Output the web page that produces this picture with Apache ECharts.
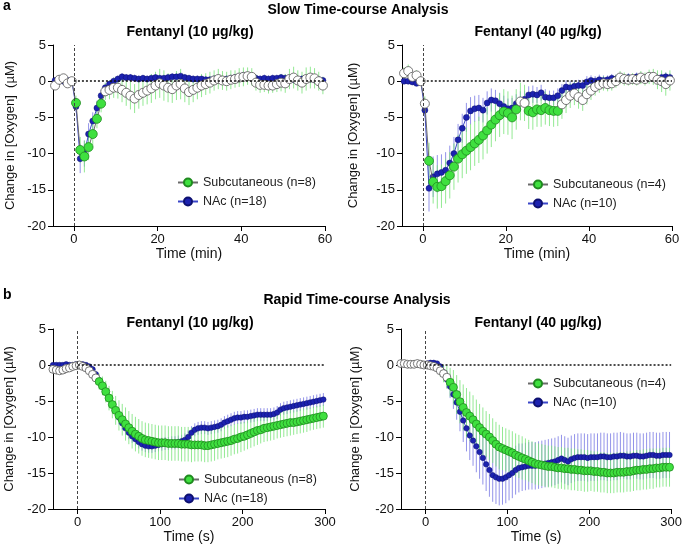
<!DOCTYPE html>
<html>
<head>
<meta charset="utf-8">
<title>Fentanyl - change in [Oxygen]</title>
<script src="https://cdn.jsdelivr.net/npm/echarts@6/dist/echarts.min.js"></script>
<style>
  html, body { margin: 0; padding: 0; background: #fff; }
  #chart { width: 685px; height: 553px; }
</style>
</head>
<body>
<div id="chart"></div>
<script>
// sampling grids (min for the slow panels, s for the rapid panels)
var slowTimes = Array.from({length: 65}, function (_, i) { return -4.5 + i; });
var rapidTimes = Array.from({length: 83}, function (_, i) { return -30 + 4 * i; });
var slowTicks = [0, 20, 40, 60];
var rapidTicks = [0, 100, 200, 300];

// time windows where subcutaneous points are drawn filled (green)
var sigSlow10 = [[0.5, 6.5]];
var sigSlow40 = [[1.5, 22.5], [25.5, 32.5]];
var sigRapid10 = [[26, 298]];
var sigRapid40 = [[30, 298]];

// ---- slow, 10 ug/kg ----
var slowSc10 = [
  -0.6, 0.2, 0.4, -0.3, 0.0,
  -3.0, -9.5, -10.4, -9.1, -7.3, -5.2, -3.1,
  -1.4, -1.2, -0.9, -0.9, -1.2, -1.6, -2.0, -2.4, -1.9, -1.6,
  -1.3, -1.0, -0.6, -0.3, -0.6, -0.9, -1.1, -0.6, -0.4, -1.0,
  -1.5, -1.2, -0.9, -0.6, -0.4, -0.2, 0.1, 0.3, 0.1, 0.0,
  0.2, 0.3, 0.5, 0.6, 0.7, 0.6, -0.2, -0.5, -0.5, -0.6,
  -0.6, -0.4, -0.2, -0.3, 0.3, 0.5, 0.1, -0.2, 0.3, 0.5,
  0.4, 0.0, -0.6
];
var slowSc10Sem = [
  0.5, 0.5, 0.5, 0.5, 0.3,
  1.0, 1.8, 2.2, 1.8, 1.5, 1.3, 1.2,
  1.2, 1.3, 1.4, 1.5, 1.7, 1.8, 1.9, 2.0, 1.9, 1.8,
  1.9, 2.0, 1.9, 2.0, 2.1, 2.0, 1.9, 2.0, 2.1, 1.9,
  1.8, 1.7, 1.6, 1.6, 1.5, 1.5, 1.4, 1.4, 1.3, 1.3,
  1.3, 1.2, 1.3, 1.3, 1.2, 1.2, 1.1, 1.1, 1.0, 1.1,
  1.0, 1.1, 1.2, 1.3, 1.4, 1.5, 1.4, 1.5, 1.6, 1.5,
  1.4, 1.3, 1.2
];
var slowNac10 = [
  0.1, 0.0, 0.0, 0.1, 0.0,
  -3.5, -10.7, -10.0, -7.3, -5.5, -3.7, -2.0,
  -0.9, -0.4, 0.0, 0.3, 0.6, 0.5, 0.5, 0.4, 0.3, 0.4,
  0.3, 0.4, 0.5, 0.4, 0.4, 0.5, 0.6, 0.6, 0.7, 0.5,
  0.4, 0.3, 0.3, 0.3, 0.2, 0.2, 0.3, 0.3, 0.2, 0.3,
  0.4, 0.5, 0.6, 0.8, 0.7, 0.6, 0.4, 0.3, 0.4, 0.3,
  0.4, 0.4, 0.5, 0.4, 0.3, 0.2, 0.2, 0.3, 0.4, 0.3,
  0.2, 0.2, 0.1
];
var slowNac10Sem = [
  0.3, 0.3, 0.3, 0.3, 0.3,
  0.8, 2.0, 1.8, 1.5, 1.2, 1.0, 0.8,
  0.6, 0.5, 0.5, 0.5, 0.5, 0.5, 0.5, 0.5, 0.5, 0.5,
  0.5, 0.5, 0.5, 0.5, 0.5, 0.5, 0.5, 0.5, 0.5, 0.5,
  0.5, 0.5, 0.5, 0.5, 0.5, 0.5, 0.5, 0.5, 0.5, 0.5,
  0.5, 0.5, 0.5, 0.5, 0.5, 0.5, 0.5, 0.5, 0.5, 0.5,
  0.5, 0.5, 0.5, 0.5, 0.5, 0.5, 0.5, 0.5, 0.5, 0.5,
  0.5, 0.5, 0.5
];

// ---- slow, 40 ug/kg ----
var slowSc40 = [
  1.1, 1.4, 0.6, 0.8, 0.0,
  -3.1, -11.0, -13.9, -14.6, -14.5, -13.8, -13.0,
  -11.8, -10.7, -10.1, -9.6, -9.1, -8.6, -8.1, -7.5, -6.8, -6.0,
  -5.3, -4.7, -4.2, -4.4, -5.0, -3.9, -2.8, -3.0, -4.1, -4.3,
  -3.9, -4.0, -3.7, -4.0, -4.1, -4.1, -3.2, -2.6, -2.0, -1.7,
  -2.2, -2.6, -1.8, -1.3, -0.8, -0.5, -0.3, -0.4, -0.3, 0.0,
  0.5, 0.3, 0.2, 0.3, 0.2, 0.5, 0.3, 0.6, 0.6, 0.2,
  0.0, -0.4, 0.1
];
var slowSc40Sem = [
  0.8, 0.9, 0.6, 0.7, 0.3,
  1.0, 2.5, 3.0, 3.0, 3.0, 3.1, 3.2,
  3.2, 3.3, 3.3, 3.2, 3.2, 3.1, 3.2, 3.3, 3.2, 3.1,
  3.0, 3.0, 3.1, 3.0, 3.0, 2.8, 2.6, 2.5, 2.5, 2.4,
  2.4, 2.3, 2.3, 2.2, 2.2, 2.1, 2.0, 1.8, 1.7, 1.6,
  1.6, 1.5, 1.4, 1.3, 1.2, 1.1, 1.0, 1.0, 1.0, 0.9,
  0.9, 0.9, 0.8, 0.8, 0.8, 0.9, 0.9, 1.0, 1.1, 1.3,
  1.5, 1.6, 1.4
];
var slowNac40 = [
  0.0, 0.0, -0.1, -0.3, 0.0,
  -4.0, -14.8, -13.2, -12.8, -12.6, -12.3, -11.3,
  -10.0, -8.1, -6.5, -5.0, -4.1, -3.8, -3.7, -4.0, -3.0, -2.6,
  -2.7, -3.1, -3.5, -3.8, -3.7, -3.1, -2.7, -2.5, -1.9, -1.8,
  -1.9, -1.6, -2.2, -2.3, -2.3, -2.0, -1.3, -0.8, -0.9, -0.7,
  -0.6, -0.6, -0.1, 0.1, 0.0, 0.2, 0.1, 0.2, 0.4, 0.3,
  0.5, 0.4, 0.5, 0.4, 0.6, 0.5, 0.4, 0.5, 0.6, 0.4,
  0.5, 0.6, 0.5
];
var slowNac40Sem = [
  0.3, 0.3, 0.3, 0.3, 0.2,
  1.0, 3.2, 2.8, 2.6, 2.5, 2.5, 2.4,
  2.3, 2.2, 2.0, 2.0, 1.9, 1.8, 1.8, 1.7, 1.6, 1.6,
  1.5, 1.5, 1.5, 1.4, 1.4, 1.3, 1.3, 1.2, 1.2, 1.2,
  1.1, 1.1, 1.1, 1.0, 1.0, 1.0, 0.9, 0.9, 0.9, 0.8,
  0.8, 0.8, 0.8, 0.7, 0.7, 0.7, 0.7, 0.6, 0.6, 0.6,
  0.6, 0.6, 0.6, 0.6, 0.6, 0.6, 0.6, 0.6, 0.6, 0.6,
  0.6, 0.6, 0.6
];

// ---- rapid, 10 ug/kg ----
var rapidSc10 = [
  -0.6, -0.7, -0.8, -0.7, -0.5, -0.4, -0.2, -0.1,
  0.0, -0.2, -0.4, -0.8, -1.3, -1.8, -2.3, -2.9, -3.7, -4.6,
  -5.5, -6.3, -7.0, -7.6, -8.2, -8.7, -9.2, -9.6, -9.9, -10.2,
  -10.4, -10.5, -10.6, -10.7, -10.8, -10.8, -10.8, -10.9, -10.9, -10.9,
  -10.9, -11.0, -11.0, -11.0, -11.1, -11.1, -11.1, -11.1, -11.2, -11.2,
  -11.1, -11.0, -10.9, -10.8, -10.7, -10.6, -10.5, -10.3, -10.2, -10.0,
  -9.9, -9.7, -9.5, -9.3, -9.1, -9.0, -8.8, -8.7, -8.6, -8.5,
  -8.4, -8.3, -8.2, -8.1, -8.0, -8.0, -7.9, -7.8, -7.7, -7.6,
  -7.5, -7.4, -7.3, -7.2, -7.1
];
var rapidSc10Sem = [
  0.3, 0.3, 0.3, 0.3, 0.3, 0.3, 0.3, 0.3,
  0.3, 0.3, 0.4, 0.5, 0.7, 0.9, 1.1, 1.3, 1.5, 1.7,
  1.9, 2.0, 2.1, 2.2, 2.3, 2.3, 2.4, 2.4, 2.4, 2.4,
  2.4, 2.4, 2.4, 2.4, 2.4, 2.4, 2.4, 2.4, 2.4, 2.4,
  2.4, 2.4, 2.4, 2.4, 2.4, 2.3, 2.3, 2.3, 2.3, 2.3,
  2.3, 2.3, 2.2, 2.2, 2.2, 2.2, 2.1, 2.1, 2.1, 2.1,
  2.0, 2.0, 2.0, 2.0, 2.0, 1.9, 1.9, 1.9, 1.9, 1.9,
  1.8, 1.8, 1.8, 1.8, 1.8, 1.7, 1.7, 1.7, 1.7, 1.7,
  1.6, 1.6, 1.6, 1.6, 1.6
];
var rapidNac10 = [
  0.0, 0.0, 0.0, 0.0, 0.1, 0.0, 0.0, 0.1,
  0.1, 0.1, 0.0, -0.2, -0.6, -1.3, -2.1, -2.9, -3.7, -4.6,
  -5.5, -6.4, -7.3, -8.1, -8.8, -9.4, -9.9, -10.3, -10.7, -11.0,
  -11.2, -11.3, -11.3, -11.2, -11.1, -11.0, -10.9, -10.9, -10.8, -10.8,
  -10.7, -10.6, -10.4, -10.0, -9.4, -9.0, -8.8, -8.7, -8.7, -8.8,
  -8.7, -8.6, -8.5, -8.3, -8.0, -7.8, -7.6, -7.4, -7.3, -7.3,
  -7.2, -7.2, -7.1, -7.0, -6.9, -6.9, -6.9, -6.9, -6.9, -6.8,
  -6.6, -6.2, -6.0, -5.9, -5.8, -5.7, -5.6, -5.5, -5.4, -5.3,
  -5.2, -5.1, -5.0, -4.9, -4.8
];
var rapidNac10Sem = [
  0.1, 0.1, 0.1, 0.1, 0.1, 0.1, 0.1, 0.1,
  0.1, 0.1, 0.2, 0.3, 0.4, 0.5, 0.6, 0.7, 0.8, 0.8,
  0.9, 0.9, 0.9, 0.9, 0.9, 0.9, 0.9, 0.9, 0.9, 0.9,
  0.9, 0.9, 0.9, 0.9, 0.9, 0.9, 0.9, 0.9, 0.9, 0.9,
  0.9, 0.9, 0.9, 0.9, 0.9, 0.9, 0.9, 0.9, 0.9, 0.9,
  0.9, 0.9, 0.9, 0.9, 0.9, 0.9, 0.9, 0.9, 0.9, 0.9,
  0.9, 0.9, 0.9, 0.9, 0.9, 0.9, 0.9, 0.9, 0.9, 0.9,
  0.9, 0.9, 0.9, 0.9, 0.9, 0.9, 0.9, 0.9, 0.9, 0.9,
  0.9, 0.9, 0.9, 0.9, 0.9
];

// ---- rapid, 40 ug/kg ----
var rapidSc40 = [
  0.2, 0.2, 0.1, 0.1, 0.1, 0.2, 0.1, 0.0,
  0.0, -0.1, -0.2, -0.4, -0.8, -1.2, -1.7, -2.4, -3.1, -4.1,
  -5.1, -5.9, -6.6, -7.1, -7.6, -8.2, -8.7, -9.2, -9.6, -10.0,
  -10.5, -11.0, -11.4, -11.6, -11.8, -12.0, -12.2, -12.5, -12.7, -12.9,
  -13.1, -13.3, -13.5, -13.7, -13.8, -13.9, -14.0, -14.1, -14.1, -14.2,
  -14.3, -14.3, -14.4, -14.4, -14.5, -14.5, -14.6, -14.6, -14.7, -14.7,
  -14.7, -14.8, -14.8, -14.9, -14.9, -15.0, -15.0, -15.0, -14.9, -14.9,
  -14.9, -14.8, -14.8, -14.7, -14.6, -14.6, -14.5, -14.5, -14.4, -14.4,
  -14.3, -14.3, -14.2, -14.2, -14.2
];
var rapidSc40Sem = [
  0.2, 0.2, 0.2, 0.2, 0.2, 0.2, 0.2, 0.2,
  0.2, 0.2, 0.3, 0.5, 0.8, 1.2, 1.6, 2.0, 2.4, 2.7,
  3.0, 3.2, 3.4, 3.4, 3.4, 3.4, 3.3, 3.3, 3.2, 3.2,
  3.1, 3.1, 3.1, 3.0, 3.0, 3.0, 3.0, 3.0, 3.0, 3.0,
  2.9, 2.9, 2.9, 2.9, 2.9, 2.9, 2.9, 2.9, 2.9, 2.9,
  2.9, 2.9, 2.9, 2.9, 2.9, 2.9, 2.9, 2.9, 2.9, 2.9,
  2.8, 2.8, 2.8, 2.8, 2.8, 2.8, 2.8, 2.8, 2.8, 2.8,
  2.8, 2.8, 2.8, 2.8, 2.8, 2.8, 2.8, 2.8, 2.8, 2.8,
  2.7, 2.7, 2.7, 2.7, 2.7
];
var rapidNac40 = [
  0.1, 0.1, 0.1, 0.1, 0.1, 0.1, 0.1, 0.1,
  0.2, 0.3, 0.3, 0.2, -0.2, -1.0, -2.0, -3.0, -4.1, -5.2,
  -6.5, -7.7, -8.8, -9.8, -10.5, -11.3, -12.1, -12.9, -13.8, -14.6,
  -15.3, -15.6, -15.8, -15.8, -15.6, -15.3, -15.0, -14.6, -14.3, -14.2,
  -14.1, -14.0, -14.0, -14.0, -13.9, -13.8, -13.7, -13.6, -13.5, -13.4,
  -13.2, -13.0, -13.2, -13.4, -13.1, -12.9, -12.8, -12.8, -12.8, -12.9,
  -12.8, -12.8, -12.8, -12.7, -12.7, -12.8, -12.8, -12.7, -12.7, -12.6,
  -12.6, -12.7, -12.7, -12.6, -12.6, -12.7, -12.7, -12.6, -12.5, -12.5,
  -12.6, -12.6, -12.5, -12.5, -12.5
];
var rapidNac40Sem = [
  0.1, 0.1, 0.1, 0.1, 0.1, 0.1, 0.1, 0.1,
  0.1, 0.1, 0.1, 0.2, 0.4, 0.8, 1.2, 1.6, 2.0, 2.4,
  2.7, 3.0, 3.2, 3.4, 3.5, 3.6, 3.7, 3.7, 3.7, 3.7,
  3.7, 3.7, 3.7, 3.6, 3.6, 3.5, 3.5, 3.4, 3.4, 3.3,
  3.3, 3.3, 3.3, 3.3, 3.3, 3.3, 3.3, 3.3, 3.3, 3.3,
  3.3, 3.3, 3.3, 3.3, 3.3, 3.3, 3.3, 3.3, 3.3, 3.3,
  3.3, 3.3, 3.3, 3.3, 3.3, 3.3, 3.3, 3.3, 3.3, 3.3,
  3.2, 3.2, 3.2, 3.2, 3.2, 3.2, 3.2, 3.2, 3.2, 3.2,
  3.2, 3.2, 3.2, 3.2, 3.2
];

var FONT = '"Liberation Sans", Arial, sans-serif';
var GREEN = '#3fe03f', GREEN_EDGE = '#1f8a1f', GREEN_ERR = 'rgba(120,228,120,0.8)';
var BLUE = '#1c22b0', BLUE_EDGE = '#0d1070', BLUE_ERR = 'rgba(120,120,228,0.8)';

var panels = [
  {grid: {left: 53, top: 45, width: 272, height: 181}, times: slowTimes, xMin: -5, xMax: 60, ticks: slowTicks,
   xName: 'Time (min)', yName: 'Change in [Oxygen]  (\u00b5M)', yGap: 36,
   sc: slowSc10, scSem: slowSc10Sem, nac: slowNac10, nacSem: slowNac10Sem, sig: sigSlow10,
   scName: 'Subcutaneous (n=8)', nacName: 'NAc (n=18)', legend: {left: 172, top: 171}, scSize: 9, nacSize: 6},
  {grid: {left: 402, top: 45, width: 270, height: 181}, times: slowTimes, xMin: -5, xMax: 60, ticks: slowTicks,
   xName: 'Time (min)', yName: 'Change in [Oxygen] (\u00b5M)', yGap: 42,
   sc: slowSc40, scSem: slowSc40Sem, nac: slowNac40, nacSem: slowNac40Sem, sig: sigSlow40,
   scName: 'Subcutaneous (n=4)', nacName: 'NAc (n=10)', legend: {left: 522, top: 173}, scSize: 9, nacSize: 6},
  {grid: {left: 53, top: 329, width: 272, height: 180}, times: rapidTimes, xMin: -30, xMax: 300, ticks: rapidTicks,
   xName: 'Time (s)', yName: 'Change in [Oxygen] (\u00b5M)', yGap: 37,
   sc: rapidSc10, scSem: rapidSc10Sem, nac: rapidNac10, nacSem: rapidNac10Sem, sig: sigRapid10,
   scName: 'Subcutaneous (n=8)', nacName: 'NAc (n=18)', legend: {left: 173, top: 468}, scSize: 8, nacSize: 5.5},
  {grid: {left: 401, top: 329, width: 272, height: 180}, times: rapidTimes, xMin: -30, xMax: 300, ticks: rapidTicks,
   xName: 'Time (s)', yName: 'Change in [Oxygen] (\u00b5M)', yGap: 39,
   sc: rapidSc40, scSem: rapidSc40Sem, nac: rapidNac40, nacSem: rapidNac40Sem, sig: sigRapid40,
   scName: 'Subcutaneous (n=4)', nacName: 'NAc (n=10)', legend: {left: 522, top: 372}, scSize: 8, nacSize: 5.5}
];

function errorBars(i, times, mean, sem, color, z) {
  return {
    type: 'custom', xAxisIndex: i, yAxisIndex: i, z: z, silent: true, clip: true,
    data: mean.map(function (m, k) { return [times[k], m - sem[k], m + sem[k]]; }),
    encode: {x: 0, y: [1, 2]},
    renderItem: function (params, api) {
      var lo = api.coord([api.value(0), api.value(1)]);
      var hi = api.coord([api.value(0), api.value(2)]);
      return {type: 'line', shape: {x1: lo[0], y1: lo[1], x2: hi[0], y2: hi[1]},
              style: {stroke: color, lineWidth: 1}};
    }
  };
}

function scPoints(p) {
  return p.sc.map(function (v, k) {
    var t = p.times[k];
    var filled = p.sig.some(function (r) { return t >= r[0] && t <= r[1]; });
    if (filled) return [t, v];
    return {value: [t, v], itemStyle: {color: '#fff', borderColor: '#555', borderWidth: 0.8}};
  });
}

var option = {
  animation: false,
  grid: [], xAxis: [], yAxis: [], legend: [], series: [],
  graphic: [
    {type: 'text', x: 3, y: 6, style: {text: 'a', font: 'bold 14px ' + FONT, fill: '#000', verticalAlign: 'middle'}},
    {type: 'text', x: 358, y: 10, style: {text: 'Slow Time-course Analysis', font: 'bold 14px ' + FONT, fill: '#000', align: 'center', verticalAlign: 'middle'}},
    {type: 'text', x: 190, y: 32, style: {text: 'Fentanyl (10 \u00b5g/kg)', font: 'bold 14px ' + FONT, fill: '#000', align: 'center', verticalAlign: 'middle'}},
    {type: 'text', x: 538, y: 32, style: {text: 'Fentanyl (40 \u00b5g/kg)', font: 'bold 14px ' + FONT, fill: '#000', align: 'center', verticalAlign: 'middle'}},
    {type: 'text', x: 3, y: 295, style: {text: 'b', font: 'bold 14px ' + FONT, fill: '#000', verticalAlign: 'middle'}},
    {type: 'text', x: 357, y: 300, style: {text: 'Rapid Time-course Analysis', font: 'bold 14px ' + FONT, fill: '#000', align: 'center', verticalAlign: 'middle'}},
    {type: 'text', x: 190, y: 323, style: {text: 'Fentanyl (10 \u00b5g/kg)', font: 'bold 14px ' + FONT, fill: '#000', align: 'center', verticalAlign: 'middle'}},
    {type: 'text', x: 538, y: 323, style: {text: 'Fentanyl (40 \u00b5g/kg)', font: 'bold 14px ' + FONT, fill: '#000', align: 'center', verticalAlign: 'middle'}}
  ]
};

panels.forEach(function (p, i) {
  option.grid.push(Object.assign({containLabel: false}, p.grid));
  option.xAxis.push({
    type: 'value', gridIndex: i, min: p.xMin, max: p.xMax,
    name: p.xName, nameLocation: 'middle', nameGap: 19,
    nameTextStyle: {fontSize: 14, color: '#111', fontFamily: FONT},
    axisLine: {onZero: false, lineStyle: {color: '#000', width: 1}},
    axisTick: {customValues: p.ticks, length: 5, lineStyle: {color: '#000'}},
    axisLabel: {customValues: p.ticks, fontSize: 13, color: '#111', margin: 7, fontFamily: FONT},
    splitLine: {show: false}
  });
  option.yAxis.push({
    type: 'value', gridIndex: i, min: -20, max: 5, interval: 5,
    name: p.yName, nameLocation: 'middle', nameRotate: 90, nameGap: p.yGap,
    nameTextStyle: {fontSize: 13, color: '#111', fontFamily: FONT},
    axisLine: {show: true, onZero: false, lineStyle: {color: '#000', width: 1}},
    axisTick: {show: true, length: 5, lineStyle: {color: '#000'}},
    axisLabel: {fontSize: 13, color: '#111', margin: 7, fontFamily: FONT},
    splitLine: {show: false}
  });
  option.legend.push({
    data: [p.scName, p.nacName], left: p.legend.left, top: p.legend.top,
    orient: 'vertical', itemWidth: 20, itemHeight: 10, itemGap: 6, selectedMode: false,
    textStyle: {fontSize: 12.5, color: '#222', fontFamily: FONT}
  });

  var nacErr = errorBars(i, p.times, p.nac, p.nacSem, BLUE_ERR, 1);
  nacErr.markLine = {
    silent: true, symbol: 'none', label: {show: false}, animation: false,
    data: [
      {xAxis: 0, lineStyle: {type: [3, 2], color: '#444', width: 1}},
      [{coord: [0, 0], lineStyle: {type: [2, 2], color: '#111', width: 1.5}}, {coord: [p.xMax, 0]}]
    ]
  };
  option.series.push(nacErr);
  option.series.push(errorBars(i, p.times, p.sc, p.scSem, GREEN_ERR, 2));
  option.series.push({
    type: 'line', name: p.nacName, xAxisIndex: i, yAxisIndex: i, z: 3,
    data: p.nac.map(function (v, k) { return [p.times[k], v]; }),
    symbol: 'circle', symbolSize: p.nacSize, showAllSymbol: true,
    lineStyle: {color: '#3a46c8', width: 1},
    itemStyle: {color: BLUE, borderColor: BLUE_EDGE, borderWidth: 0.5},
    emphasis: {disabled: true}
  });
  option.series.push({
    type: 'line', name: p.scName, xAxisIndex: i, yAxisIndex: i, z: 4,
    data: scPoints(p),
    symbol: 'circle', symbolSize: p.scSize, showAllSymbol: true,
    lineStyle: {color: '#6a6a6a', width: 1},
    itemStyle: {color: GREEN, borderColor: GREEN_EDGE, borderWidth: 0.8},
    emphasis: {disabled: true}
  });
});

var chart = echarts.init(document.getElementById('chart'), null, {renderer: 'canvas'});
chart.setOption(option);
</script>
</body>
</html>
